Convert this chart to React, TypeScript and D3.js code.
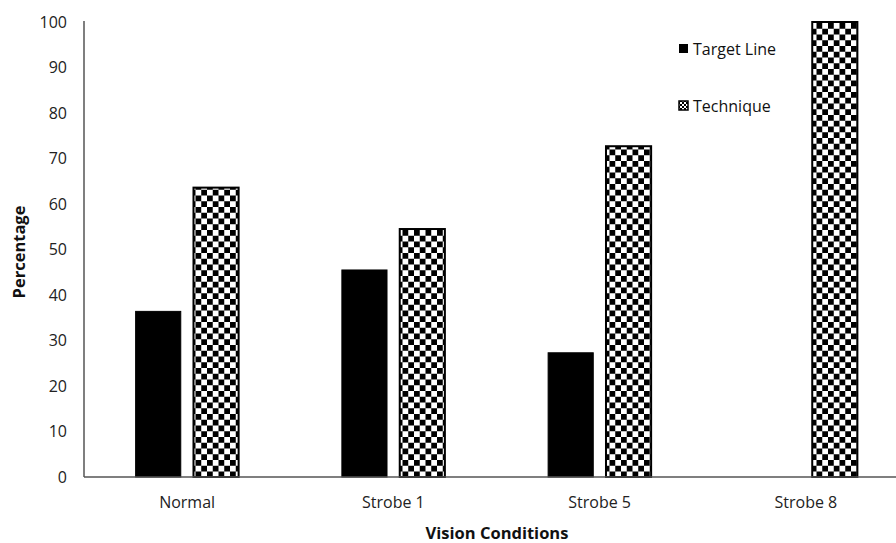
import React from "react";
import * as d3 from "d3";

const categories = ["Normal", "Strobe 1", "Strobe 5", "Strobe 8"];
const seriesNames = ["Target Line", "Technique"];
const targetLine = [36.4, 45.5, 27.3, 0];
const technique = [63.6, 54.5, 72.7, 100];
const yTicks = [0, 10, 20, 30, 40, 50, 60, 70, 80, 90, 100];

const W = 896;
const H = 543;
const FONT = "'Open Sans', 'Noto Sans', sans-serif";

export default function App() {
  const x0 = d3.scaleBand<string>().domain(categories).range([84, 909]);
  const x1 = d3
    .scaleBand<string>()
    .domain(seriesNames)
    .range([-51.5, 51.5])
    .paddingInner(0.22);
  const y = d3.scaleLinear().domain([0, 100]).range([477, 22]);
  const values = [targetLine, technique];
  const cell = 5.75;

  return (
    <svg
      width={W}
      height={H}
      style={{ position: "absolute", left: 0, top: 0, background: "#fff" }}
    >
      <defs>
        <pattern id="checker" width={cell * 2} height={cell * 2} patternUnits="userSpaceOnUse">
          <rect width={cell * 2} height={cell * 2} fill="#fff" />
          <rect x={0} y={0} width={cell} height={cell} fill="#000" />
          <rect x={cell} y={cell} width={cell} height={cell} fill="#000" />
        </pattern>
        <pattern id="checkerSmall" width={4} height={4} patternUnits="userSpaceOnUse">
          <rect width={4} height={4} fill="#fff" />
          <rect x={0} y={0} width={2} height={2} fill="#000" />
          <rect x={2} y={2} width={2} height={2} fill="#000" />
        </pattern>
      </defs>

      {yTicks.map((t) => (
        <text
          key={t}
          x={67}
          y={y(t)}
          dy="0.35em"
          textAnchor="end"
          fontFamily={FONT}
          fontSize={16}
          fill="#222"
        >
          {t}
        </text>
      ))}

      {seriesNames.map((s, si) =>
        categories.map((c, ci) => {
          const v = values[si][ci];
          if (v <= 0) return null;
          const bx = (x0(c) as number) + x0.bandwidth() / 2 + (x1(s) as number);
          const by = y(v);
          const bh = y(0) - by;
          return (
            <rect
              key={s + c}
              x={bx}
              y={by}
              width={x1.bandwidth()}
              height={bh}
              fill={si === 0 ? "#000" : "url(#checker)"}
              stroke="#000"
              strokeWidth={si === 0 ? 1 : 2}
            />
          );
        })
      )}

      <line x1={84} x2={84} y1={21} y2={477} stroke="#555" strokeWidth={1.5} />
      <line x1={84} x2={W} y1={477} y2={477} stroke="#555" strokeWidth={1.5} />

      {categories.map((c) => (
        <text
          key={c}
          x={(x0(c) as number) + x0.bandwidth() / 2}
          y={502}
          dy="0.35em"
          textAnchor="middle"
          fontFamily={FONT}
          fontSize={16}
          fill="#222"
        >
          {c}
        </text>
      ))}

      <text
        x={497}
        y={533}
        dy="0.35em"
        textAnchor="middle"
        fontFamily={FONT}
        fontSize={16.5}
        fontWeight="bold"
        fill="#111"
      >
        Vision Conditions
      </text>
      <text
        transform={`translate(19,252) rotate(-90)`}
        dy="0.35em"
        textAnchor="middle"
        fontFamily={FONT}
        fontSize={16.5}
        fontWeight="bold"
        fill="#111"
      >
        Percentage
      </text>

      <rect x={679} y={44} width={9} height={9} fill="#000" />
      <text x={693} y={49} dy="0.35em" fontFamily={FONT} fontSize={16} fill="#111">
        {seriesNames[0]}
      </text>
      <rect x={679} y={101} width={9} height={9} fill="url(#checkerSmall)" stroke="#000" strokeWidth={1.5} />
      <text x={693} y={106} dy="0.35em" fontFamily={FONT} fontSize={16} fill="#111">
        {seriesNames[1]}
      </text>
    </svg>
  );
}
